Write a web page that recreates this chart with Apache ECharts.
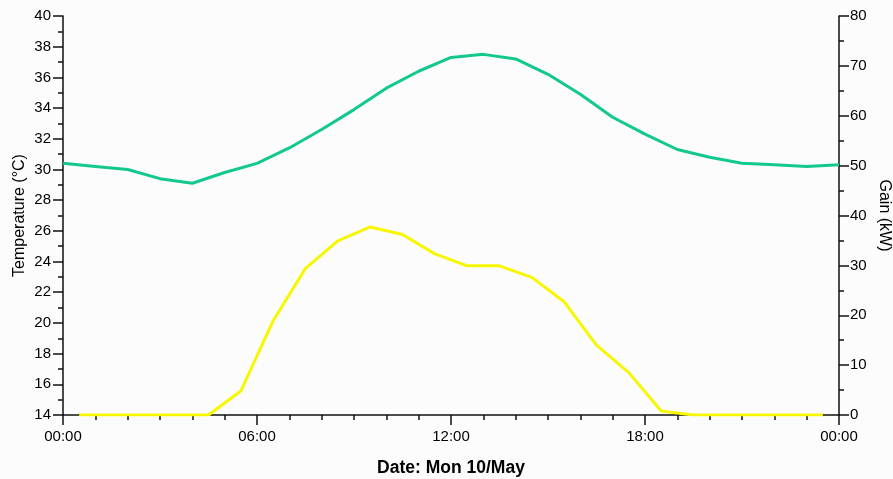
<!DOCTYPE html>
<html>
<head>
<meta charset="utf-8">
<script src="https://cdn.jsdelivr.net/npm/echarts@6/dist/echarts.min.js"></script>
<style>
html,body{margin:0;padding:0;background:#fcfcfc;}
#chart{width:893px;height:479px;}
</style>
</head>
<body>
<div id="chart"></div>
<script>
// Time of day in hours
var tempTimes = [0,1,2,3,4,5,6,7,8,9,10,11,12,13,14,15,16,17,18,19,20,21,22,23,24];
var temperature = [30.4,30.2,30.0,29.4,29.1,29.8,30.4,31.4,32.6,33.9,35.3,36.4,37.3,37.5,37.2,36.2,34.9,33.4,32.3,31.3,30.8,30.4,30.3,30.2,30.3];
var gainTimes = [0.5,1.5,2.5,3.5,4.5,5.5,6.5,7.5,8.5,9.5,10.5,11.5,12.5,13.5,14.5,15.5,16.5,17.5,18.5,19.5,20.5,21.5,22.5,23.5];
var gain = [0,0,0,0,0,4.8,18.9,29.4,34.9,37.7,36.2,32.3,29.9,29.9,27.6,22.7,14.0,8.5,0.8,0,0,0,0,0];
var xTickLabels = {0:'00:00',6:'06:00',12:'12:00',18:'18:00',24:'00:00'};

function pairs(xs, ys){ return xs.map(function(x,i){ return [x, ys[i]]; }); }

var font = 'Liberation Sans, Arial, sans-serif';
var axisColor = '#111';
var chart = echarts.init(document.getElementById('chart'));
chart.setOption({
  animation: false,
  backgroundColor: '#fcfcfc',
  grid: {left: 63, right: 54, top: 16, bottom: 64, containLabel: false, outerBoundsMode: 'none'},
  xAxis: {
    type: 'value', min: 0, max: 24, interval: 6,
    name: 'Date: Mon 10/May', nameLocation: 'middle', nameGap: 44, nameMoveOverlap: false,
    nameTextStyle: {fontFamily: font, fontSize: 17.5, fontWeight: 'bold', color: '#000'},
    axisLine: {lineStyle: {color: axisColor, width: 1.5}},
    axisTick: {show: true, length: 10, lineStyle: {color: axisColor, width: 1.5}},
    minorTick: {show: true, splitNumber: 6, length: 5, lineStyle: {color: axisColor, width: 1.5}},
    splitLine: {show: false},
    axisLabel: {margin: 14, fontFamily: font, fontSize: 15, color: '#000',
      formatter: function(v){ return xTickLabels[v]; }}
  },
  yAxis: [{
    type: 'value', min: 14, max: 40, interval: 2, position: 'left',
    name: 'Temperature (°C)', nameLocation: 'middle', nameGap: 35, nameRotate: 90, nameMoveOverlap: false,
    nameTextStyle: {fontFamily: font, fontSize: 16, color: '#000'},
    axisLine: {show: true, lineStyle: {color: axisColor, width: 1.5}},
    axisTick: {show: true, length: 10, lineStyle: {color: axisColor, width: 1.5}},
    minorTick: {show: true, splitNumber: 2, length: 5, lineStyle: {color: axisColor, width: 1.5}},
    splitLine: {show: false},
    axisLabel: {margin: 12, fontFamily: font, fontSize: 15, color: '#000'}
  }, {
    type: 'value', min: 0, max: 80, interval: 10, position: 'right',
    name: 'Gain (kW)', nameLocation: 'middle', nameGap: 37, nameRotate: -90, nameMoveOverlap: false,
    nameTextStyle: {fontFamily: font, fontSize: 16, color: '#000'},
    axisLine: {show: true, lineStyle: {color: axisColor, width: 1.5}},
    axisTick: {show: true, length: 10, lineStyle: {color: axisColor, width: 1.5}},
    minorTick: {show: true, splitNumber: 2, length: 5, lineStyle: {color: axisColor, width: 1.5}},
    splitLine: {show: false},
    axisLabel: {margin: 11, fontFamily: font, fontSize: 15, color: '#000'}
  }],
  series: [{
    name: 'Temperature', type: 'line', yAxisIndex: 0, showSymbol: false,
    data: pairs(tempTimes, temperature),
    lineStyle: {color: '#12c88e', width: 3}, itemStyle: {color: '#12c88e'}
  }, {
    name: 'Gain', type: 'line', yAxisIndex: 1, showSymbol: false,
    data: pairs(gainTimes, gain),
    lineStyle: {color: '#f7f700', width: 3}, itemStyle: {color: '#f7f700'}
  }]
});
</script>
</body>
</html>
